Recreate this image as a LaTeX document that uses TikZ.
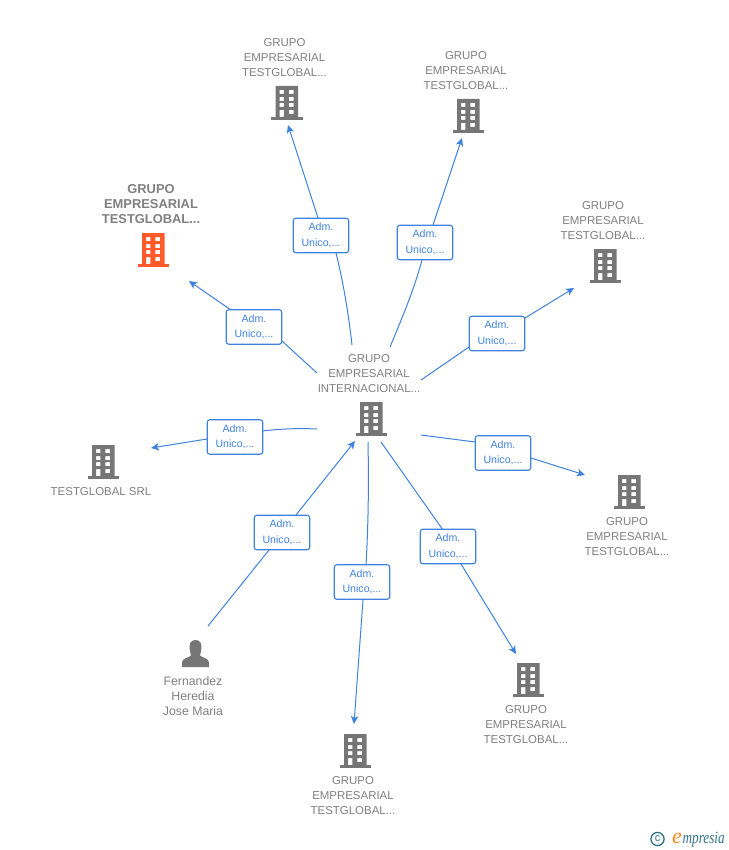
\documentclass[tikz,border=0pt]{standalone}
\usepackage{fontspec}
\setmainfont{Liberation Sans}
\newfontfamily\logofont{Liberation Serif}
\usetikzlibrary{arrows.meta}
\definecolor{linkblue}{HTML}{3F82DE}
\definecolor{labelgray}{HTML}{808080}
\definecolor{icongray}{HTML}{767676}
\definecolor{iconred}{HTML}{FF5A2B}
\definecolor{logoteal}{HTML}{2F7288}
\definecolor{logoorange}{HTML}{F08A1D}
\tikzset{
  x=1pt,y=-1pt,
  link/.style={linkblue,line width=1pt},
  arrowlink/.style={link,-{Stealth[length=8pt,width=7.5pt,inset=2pt]}},
  admbox/.style={draw=linkblue,line width=1.1pt,fill=white,rounded corners=2.5pt,minimum width=55.5pt,minimum height=34.5pt,inner sep=0pt,align=center,text=linkblue,font=\fontsize{10.6}{15}\selectfont},
  caption/.style={align=center,text=labelgray,inner sep=0pt,font=\fontsize{11.45}{15}\selectfont},
  personcaption/.style={align=center,text=labelgray,inner sep=0pt,font=\fontsize{12.3}{15}\selectfont},
  redcaption/.style={align=center,text=labelgray,inner sep=0pt,font=\fontsize{12.9}{15}\selectfont\bfseries},
  pics/building/.style={code={
    \fill[#1,even odd rule]
      (-11,-17) rectangle (11.5,14)
      (-7,-13) rectangle (-2.7,-9) (2.3,-13) rectangle (7,-9)
      (-7,-6) rectangle (-2.7,-2) (2.3,-6) rectangle (7,-2)
      (-7,0) rectangle (-2.7,4) (2.3,0) rectangle (7,4)
      (-7,7) rectangle (-2.7,14) (2.3,7) rectangle (7,11);
    \fill[#1] (-15.5,14) rectangle (16,17);
  }},
  pics/person/.style={code={
    \fill[icongray] (-13.5,13) -- (-13.5,8.5) .. controls (-13.5,4) and (-6,3.5) .. (-4.5,1.5)
      .. controls (-4.5,0) and (-4.5,-1) .. (-5.5,-3) .. controls (-7,-10) and (-5,-14) .. (0,-14)
      .. controls (5,-14) and (7,-10) .. (5.5,-3) .. controls (4.5,-1) and (4.5,0) .. (4.5,1.5)
      .. controls (6,3.5) and (13.5,4) .. (13.5,8.5) -- (13.5,13) -- cycle;
  }},
}
\newcommand{\admtext}{Adm.\hspace{4pt}\\[0.5pt]Unico,...}
\begin{document}
\begin{tikzpicture}
\useasboundingbox (0,0) rectangle (728,850);
% free ends
\coordinate (s1) at (352,345); \coordinate (t1) at (288,125);
\coordinate (s2) at (390,347); \coordinate (t2) at (462,138);
\coordinate (s3) at (421,380); \coordinate (t3) at (574,288);
\coordinate (s4) at (421,435); \coordinate (t4) at (585,475);
\coordinate (s5) at (381,442); \coordinate (t5) at (516,654);
\coordinate (s6) at (368,442); \coordinate (t6) at (354,724);
\coordinate (s7) at (208,626); \coordinate (t7) at (355,441);
\coordinate (s8) at (317,429); \coordinate (t8) at (151,448);
\coordinate (s9) at (317,373); \coordinate (t9) at (189,281);
\coordinate (e1) at (318,218); \coordinate (e2) at (433,225);
\coordinate (e3) at (525,318); \coordinate (e4) at (531,458);
\coordinate (e5) at (461,564); \coordinate (e6) at (363,600);
\coordinate (e7) at (296,515); \coordinate (e8) at (207,439);
\coordinate (e9) at (231,310);
% connectors
\draw[link] (s1) .. controls (349,318) and (344,285) .. (336,253);
\draw[arrowlink] (e1) -- (t1);
\draw[link] (s2) .. controls (402,318) and (414,290) .. (422,260);
\draw[arrowlink] (e2) -- (t2);
\draw[link] (s3) -- (469,347);
\draw[arrowlink] (e3) -- (t3);
\draw[link] (s4) -- (475,442);
\draw[arrowlink] (e4) -- (t4);
\draw[link] (s5) -- (443,530);
\draw[arrowlink] (e5) -- (t5);
\draw[link] (s6) .. controls (369,490) and (368,530) .. (366,565);
\draw[arrowlink] (e6) -- (t6);
\draw[link] (s7) -- (269,550);
\draw[arrowlink] (e7) -- (t7);
\draw[link] (s8) .. controls (298,428) and (280,429) .. (262,431);
\draw[arrowlink] (e8) -- (t8);
\draw[link] (s9) -- (282,341);
\draw[arrowlink] (e9) -- (t9);
% labels on connectors
\node[admbox] (b1) at (321,235.5) {\admtext};
\node[admbox] (b2) at (425,242.5) {\admtext};
\node[admbox] (b3) at (497,333.5) {\admtext};
\node[admbox] (b4) at (503,453) {\admtext};
\node[admbox] (b5) at (448,546.5) {\admtext};
\node[admbox] (b6) at (362,582) {\admtext};
\node[admbox] (b7) at (282,532.5) {\admtext};
\node[admbox] (b8) at (235,437) {\admtext};
\node[admbox] (b9) at (254,327) {\admtext};
% icons
\pic at (371,419) {building=icongray};
\pic at (286.5,103) {building=icongray};
\pic at (468,116) {building=icongray};
\pic at (605,266) {building=icongray};
\pic at (629,492) {building=icongray};
\pic at (528,680) {building=icongray};
\pic at (355,751) {building=icongray};
\pic at (103,462) {building=icongray};
\pic at (153,250) {building=iconred};
\pic at (195.5,654) {person};
% captions
\node[caption] (cc) at (369,374) {GRUPO\\EMPRESARIAL\\INTERNACIONAL...};
\node[caption] (c1) at (284.5,58) {GRUPO\\EMPRESARIAL\\TESTGLOBAL...};
\node[caption] (c2) at (466,71) {GRUPO\\EMPRESARIAL\\TESTGLOBAL...};
\node[caption] (c3) at (603,221) {GRUPO\\EMPRESARIAL\\TESTGLOBAL...};
\node[caption] (c4) at (627,536.5) {GRUPO\\EMPRESARIAL\\TESTGLOBAL...};
\node[caption] (c5) at (526,725) {GRUPO\\EMPRESARIAL\\TESTGLOBAL...};
\node[caption] (c6) at (353,796) {GRUPO\\EMPRESARIAL\\TESTGLOBAL...};
\node[caption] (c7) at (101,491.5) {TESTGLOBAL SRL};
\node[personcaption] (c8) at (193,696.5) {Fernandez\\Heredia\\Jose Maria};
\node[redcaption] (c9) at (151,204) {GRUPO\\EMPRESARIAL\\TESTGLOBAL...};
% logo
\node[inner sep=0pt,text=logoteal,font=\fontsize{11}{11}\selectfont] (lc) at (657.5,839) {c};
\draw[logoteal,line width=1.3pt] (657.5,839) circle (6.6);
\node[inner sep=0pt,text=logoorange,font=\logofont\itshape\fontsize{22}{22}\selectfont] (le) at (677,838) {e};
\node[inner sep=0pt,anchor=base west,text=logoteal,font=\logofont\itshape\fontsize{13.2}{14}\selectfont] (lm) at (682.5,843.5) {\scalebox{1}[1.3]{mpresia}};
\end{tikzpicture}
\end{document}
